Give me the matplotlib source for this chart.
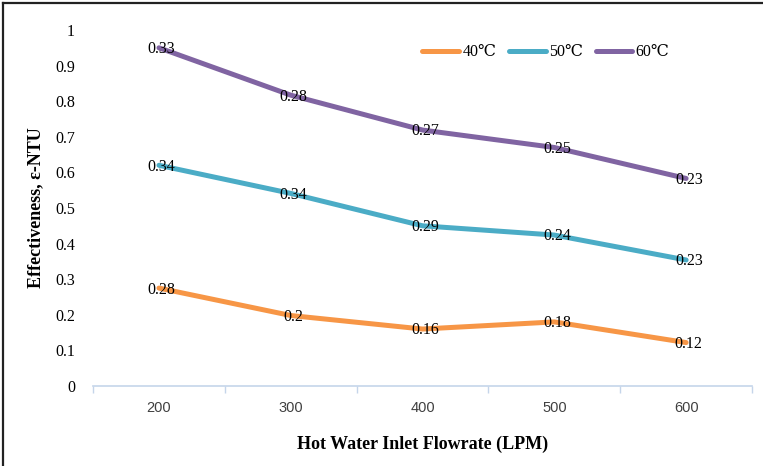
import matplotlib
matplotlib.use('Agg')
import matplotlib.pyplot as plt
from matplotlib.lines import Line2D

flow = ['200', '300', '400', '500', '600']
series_names = ['40℃', '50℃', '60℃']
eff_40 = [0.275, 0.198, 0.160, 0.180, 0.122]
eff_50 = [0.620, 0.541, 0.450, 0.424, 0.354]
eff_60 = [0.950, 0.817, 0.719, 0.670, 0.583]
lbl_40 = ['0.28', '0.2', '0.16', '0.18', '0.12']
lbl_50 = ['0.34', '0.34', '0.29', '0.24', '0.23']
lbl_60 = ['0.33', '0.28', '0.27', '0.25', '0.23']
colors = ['#F79646', '#4BACC6', '#8064A2']

serif = ['Liberation Serif', 'DejaVu Serif']
plt.rcParams['font.family'] = serif

fig = plt.figure(figsize=(7.63, 4.66), dpi=100)
ax = fig.add_axes([0.122, 0.1717, 0.8636, 0.7639])

x = list(range(len(flow)))
for vals, lbls, c, name in zip([eff_40, eff_50, eff_60], [lbl_40, lbl_50, lbl_60], colors, series_names):
    ax.plot(x, vals, color=c, lw=3.6, solid_capstyle='round', label=name, zorder=2)
    for xi, v, t in zip(x, vals, lbls):
        ax.text(xi + 0.02, v - 0.004, t, ha='center', va='center', fontsize=11.5, color='black', zorder=3)

ax.set_xlim(-0.5, 4.5)
ax.set_ylim(0, 1)
ax.set_yticks([i / 10 for i in range(11)])
ax.set_yticklabels(['0', '0.1', '0.2', '0.3', '0.4', '0.5', '0.6', '0.7', '0.8', '0.9', '1'])
ax.tick_params(axis='y', length=0, pad=13, labelsize=11.5)
ax.set_xticks(x)
ax.set_xticklabels(flow, fontfamily=['Liberation Sans'], color='#404040', fontsize=10.5)
ax.set_xticks([i - 0.5 for i in range(6)], minor=True)
ax.tick_params(axis='x', which='major', length=0, pad=11)
ax.tick_params(axis='x', which='minor', length=5, color='#C5D5EA', width=1, direction='out')

for s in ['top', 'right', 'left']:
    ax.spines[s].set_visible(False)
ax.spines['bottom'].set_color('#C5D5EA')
ax.spines['bottom'].set_linewidth(1.2)

ax.set_xlabel('Hot Water Inlet Flowrate (LPM)', fontsize=13, fontweight='bold', labelpad=15)
ax.set_ylabel('Effectiveness, ε-NTU', fontsize=13, fontweight='bold', labelpad=8)

handles = [Line2D([0], [0], color=c, lw=3.6, solid_capstyle='round') for c in colors]
ax.legend(handles, series_names, loc='upper left', bbox_to_anchor=(0.478, 1.0), ncol=3,
          frameon=False, fontsize=11.5, handlelength=2.3, handletextpad=0.2, columnspacing=0.8)

# outer frame (top and left)
fig.add_artist(Line2D([0.004, 1.0], [0.994, 0.994], transform=fig.transFigure, color='#222222', lw=1.6))
fig.add_artist(Line2D([0.004, 0.004], [0.0, 0.994], transform=fig.transFigure, color='#222222', lw=1.6))

fig.savefig('out.png', dpi=100)
